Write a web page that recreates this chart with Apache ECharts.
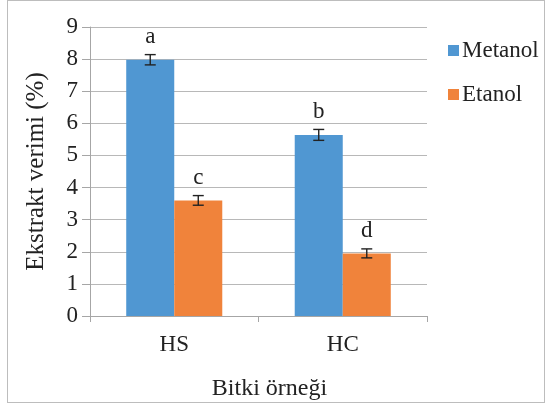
<!DOCTYPE html>
<html>
<head>
<meta charset="utf-8">
<script src="https://cdn.jsdelivr.net/npm/echarts@6/dist/echarts.min.js"></script>
<style>
html,body{margin:0;padding:0;background:#fff;}
#wrap{position:absolute;left:7px;top:0px;width:538px;height:403px;border:1px solid #bdbdbd;box-sizing:border-box;}
#chart{position:absolute;left:0;top:0;width:548px;height:406px;}
</style>
</head>
<body>
<div id="wrap"></div>
<div id="chart"></div>
<script>
const categories = ['HS', 'HC'];
const seriesNames = ['Metanol', 'Etanol'];
const metanol = [7.98, 5.64];
const etanol = [3.60, 1.95];
const metanolErr = [0.16, 0.17];
const etanolErr = [0.15, 0.14];
const metanolLetters = ['a', 'b'];
const etanolLetters = ['c', 'd'];
const yTicks = [0, 1, 2, 3, 4, 5, 6, 7, 8, 9];

const FONT = '"Liberation Serif", "Times New Roman", serif';
const chart = echarts.init(document.getElementById('chart'), null, {renderer: 'canvas'});

const catGap = 0.43;
function errData(vals, errs) {
  return vals.map((v, i) => [i, v - errs[i], v + errs[i]]);
}
function errRender(sign) {
  return function (params, api) {
    const idx = api.value(0);
    const lowP = api.coord([idx, api.value(1)]);
    const highP = api.coord([idx, api.value(2)]);
    const band = api.size([1, 0])[0];
    const bw = band * (1 - catGap) / 2;
    const x = lowP[0] + sign * bw / 2;
    const cap = 5.5;
    const style = {stroke: '#222', lineWidth: 1.4};
    return {
      type: 'group',
      children: [
        {type: 'line', shape: {x1: x, y1: highP[1], x2: x, y2: lowP[1]}, style: style},
        {type: 'line', shape: {x1: x - cap, y1: highP[1], x2: x + cap, y2: highP[1]}, style: style},
        {type: 'line', shape: {x1: x - cap, y1: lowP[1], x2: x + cap, y2: lowP[1]}, style: style}
      ]
    };
  };
}

chart.setOption({
  animation: false,
  backgroundColor: 'transparent',
  textStyle: {fontFamily: FONT},
  grid: {left: 90, right: 121, top: 27, bottom: 87, containLabel: false},
  legend: {
    orient: 'vertical',
    left: 443,
    top: 34,
    itemWidth: 11,
    itemHeight: 11,
    itemGap: 21,
    icon: 'rect',
    data: seriesNames,
    textStyle: {fontFamily: FONT, fontSize: 23, color: '#222', padding: [0, 0, 0, -2]}
  },
  xAxis: {
    type: 'category',
    data: categories,
    name: 'Bitki örneği',
    nameLocation: 'middle',
    nameGap: 61,
    nameTextStyle: {fontFamily: FONT, fontSize: 24, color: '#222', padding: [0, 0, 0, 22]},
    axisLine: {lineStyle: {color: '#a6a6a6', width: 1}},
    axisTick: {show: true, length: 6, lineStyle: {color: '#a6a6a6'}},
    axisLabel: {fontFamily: FONT, fontSize: 23, color: '#222', margin: 17}
  },
  yAxis: {
    type: 'value',
    min: 0,
    max: 9,
    interval: 1,
    name: 'Ekstrakt verimi (%)',
    nameLocation: 'middle',
    nameGap: 41,
    nameTextStyle: {fontFamily: FONT, fontSize: 25, color: '#222'},
    axisLine: {show: true, lineStyle: {color: '#a6a6a6', width: 1}},
    axisTick: {show: true, length: 8, lineStyle: {color: '#a6a6a6'}},
    splitLine: {show: true, lineStyle: {color: '#b8b8b8', width: 1}},
    axisLabel: {
      fontFamily: FONT, fontSize: 23, color: '#222', margin: 12,
      formatter: v => yTicks.includes(v) ? String(v) : ''
    }
  },
  series: [
    {
      name: seriesNames[0], type: 'bar', data: metanol,
      barGap: '0%', barCategoryGap: (catGap * 100) + '%',
      itemStyle: {color: '#5097d2'},
      label: {
        show: true, position: 'top', distance: 11,
        fontFamily: FONT, fontSize: 23, color: '#222',
        formatter: p => metanolLetters[p.dataIndex]
      }
    },
    {
      name: seriesNames[1], type: 'bar', data: etanol,
      barGap: '0%', barCategoryGap: (catGap * 100) + '%',
      itemStyle: {color: '#f0833b'},
      label: {
        show: true, position: 'top', distance: 11,
        fontFamily: FONT, fontSize: 23, color: '#222',
        formatter: p => etanolLetters[p.dataIndex]
      }
    },
    {
      type: 'custom', name: 'errM', renderItem: errRender(-1),
      data: errData(metanol, metanolErr), encode: {x: 0, y: [1, 2]}, z: 10, silent: true
    },
    {
      type: 'custom', name: 'errE', renderItem: errRender(1),
      data: errData(etanol, etanolErr), encode: {x: 0, y: [1, 2]}, z: 10, silent: true
    }
  ]
});
</script>
</body>
</html>
